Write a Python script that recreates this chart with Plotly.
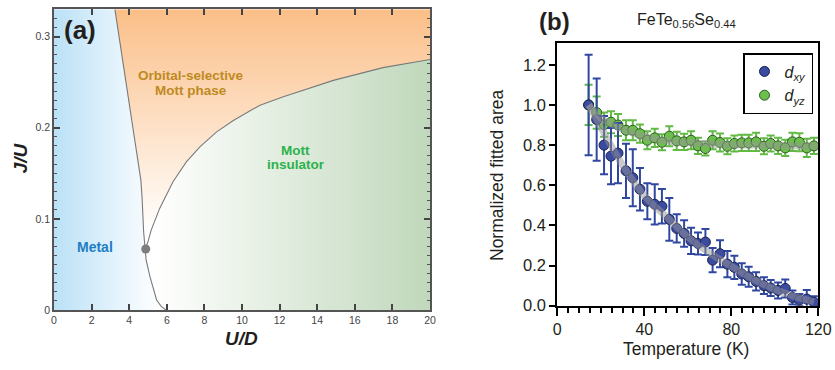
import plotly.graph_objects as go

# ---------------- Panel (a): phase diagram ----------------
# boundary metal / orbital-selective Mott phase (from top down to critical point)
mo_U = [3.24, 3.53, 3.83, 4.05, 4.22, 4.42, 4.62, 4.68, 4.72, 4.77, 4.85]
mo_J = [0.33, 0.29, 0.2485, 0.222, 0.200, 0.172, 0.1425, 0.125, 0.105, 0.085, 0.067]
# boundary metal / Mott insulator (critical point down to J=0)
mm_U = [4.85, 4.90, 5.10, 5.30, 5.46, 5.70, 5.95]
mm_J = [0.067, 0.055, 0.037, 0.022, 0.011, 0.004, 0.0]
# boundary orbital-selective / Mott insulator (critical point to right edge)
om_U = [4.85, 5.00, 5.17, 5.62, 6.33, 7.04, 7.76, 8.65, 9.54, 10.96, 12.2, 14.86, 17.5, 20.0]
om_J = [0.067, 0.075, 0.0877, 0.1115, 0.1407, 0.1626, 0.179, 0.1955, 0.208, 0.2248, 0.234, 0.252, 0.266, 0.275]
crit_U = [4.88]
crit_J = [0.067]

# ---------------- Panel (b): FeTe0.56Se0.44 ----------------
T = [14.4, 18.1, 21.5, 24.7, 27.9, 31.6, 34.7, 38.0, 41.4, 44.8, 48.1, 51.5, 54.9, 58.3, 61.5, 64.7,
     68.1, 71.4, 74.8, 78.2, 81.4, 84.8, 88.0, 91.4, 95.0, 98.1, 101.5, 104.8, 108.1, 111.3, 114.7, 118.0]
dxy = [1.0, 0.927, 0.80, 0.745, 0.76, 0.672, 0.637, 0.58, 0.52, 0.505, 0.495, 0.43, 0.385, 0.36, 0.323, 0.31,
       0.317, 0.227, 0.259, 0.207, 0.191, 0.158, 0.144, 0.121, 0.10, 0.088, 0.076, 0.086, 0.041, 0.028, 0.033, 0.017]
dxy_err = [0.25, 0.205, 0.145, 0.14, 0.15, 0.135, 0.142, 0.106, 0.09, 0.10, 0.086, 0.106, 0.07, 0.066, 0.065, 0.055,
           0.065, 0.06, 0.067, 0.065, 0.058, 0.054, 0.05, 0.045, 0.042, 0.04, 0.04, 0.045, 0.035, 0.03, 0.045, 0.03]
dyz = [1.0, 0.962, 0.902, 0.914, 0.90, 0.874, 0.874, 0.857, 0.824, 0.836, 0.814, 0.844, 0.821, 0.816, 0.824, 0.796,
       0.783, 0.824, 0.813, 0.794, 0.808, 0.811, 0.811, 0.816, 0.794, 0.808, 0.796, 0.786, 0.816, 0.814, 0.786, 0.796]
dyz_err = [0.10, 0.08, 0.06, 0.055, 0.055, 0.05, 0.05, 0.045, 0.045, 0.045, 0.04, 0.05, 0.045, 0.04, 0.045, 0.04,
           0.035, 0.045, 0.045, 0.04, 0.04, 0.04, 0.04, 0.045, 0.04, 0.04, 0.04, 0.04, 0.045, 0.045, 0.045, 0.04]
# guide-to-the-eye curves
gxy_T = [14.4, 20, 30, 40, 50, 60, 70, 80, 90, 100, 110, 118]
gxy = [1.0, 0.89, 0.70, 0.548, 0.445, 0.343, 0.262, 0.197, 0.132, 0.082, 0.043, 0.02]
gyz_T = [14.4, 20, 25, 30, 40, 50, 60, 70, 80, 90, 100, 110, 120]
gyz = [1.0, 0.935, 0.905, 0.88, 0.842, 0.822, 0.812, 0.806, 0.802, 0.80, 0.798, 0.796, 0.795]

FONT = "Liberation Sans, Arial, sans-serif"

fig = go.Figure()

# region polygons built from boundaries
metal_U = [0] + mo_U + mm_U[1:] + [0]
metal_J = [0.33] + mo_J + mm_J[1:] + [0]
osmp_U = [20] + om_U[::-1] + mo_U[::-1][1:]
osmp_J = [0.33] + om_J[::-1] + mo_J[::-1][1:]
mott_U = om_U + [20] + mm_U[::-1][:-1]
mott_J = om_J + [0] + mm_J[::-1][:-1]

fig.add_trace(go.Scatter(x=metal_U, y=metal_J, fill='toself', mode='none',
                         fillgradient=dict(type='horizontal', colorscale=[[0, '#bbe1f7'], [1, '#ffffff']],
                                           start=0, stop=5.6),
                         hoverinfo='skip', showlegend=False, xaxis='x', yaxis='y'))
fig.add_trace(go.Scatter(x=osmp_U, y=osmp_J, fill='toself', mode='none',
                         fillgradient=dict(type='vertical', colorscale=[[0, '#ffffff'], [1, '#fbbf88']],
                                           start=0.085, stop=0.33),
                         hoverinfo='skip', showlegend=False, xaxis='x', yaxis='y'))
fig.add_trace(go.Scatter(x=mott_U, y=mott_J, fill='toself', mode='none',
                         fillgradient=dict(type='horizontal', colorscale=[[0, '#ffffff'], [1, '#c0d8bb']],
                                           start=5.3, stop=20),
                         hoverinfo='skip', showlegend=False, xaxis='x', yaxis='y'))
for bu, bj in [(mo_U, mo_J), (mm_U, mm_J), (om_U, om_J)]:
    fig.add_trace(go.Scatter(x=bu, y=bj, mode='lines', line=dict(color='#7a7a7a', width=1.1),
                             hoverinfo='skip', showlegend=False, xaxis='x', yaxis='y'))
fig.add_trace(go.Scatter(x=crit_U, y=crit_J, mode='markers', marker=dict(color='#7d7d7d', size=9),
                         hoverinfo='skip', showlegend=False, xaxis='x', yaxis='y'))

# panel (b) data
fig.add_trace(go.Scatter(x=T, y=dyz, mode='markers', name='<i>d</i><sub><i>yz</i></sub>',
                         marker=dict(color='#6cbf4c', size=10, line=dict(color='#2c5a24', width=1)),
                         error_y=dict(type='data', array=dyz_err, color='#62ba44', thickness=2, width=4),
                         cliponaxis=False, legendrank=2, xaxis='x2', yaxis='y2'))
fig.add_trace(go.Scatter(x=T, y=dxy, mode='markers', name='<i>d</i><sub><i>xy</i></sub>',
                         marker=dict(color='#3b4ba0', size=10, line=dict(color='#1b2352', width=1)),
                         error_y=dict(type='data', array=dxy_err, color='#2f47a0', thickness=2, width=4),
                         cliponaxis=False, legendrank=1, xaxis='x2', yaxis='y2'))
fig.add_trace(go.Scatter(x=gyz_T, y=gyz, mode='lines', line=dict(color='rgba(150,150,150,0.5)', width=7,
                                                              shape='spline'),
                         hoverinfo='skip', showlegend=False, xaxis='x2', yaxis='y2'))
fig.add_trace(go.Scatter(x=gxy_T, y=gxy, mode='lines', line=dict(color='rgba(150,150,150,0.5)', width=7,
                                                              shape='spline'),
                         hoverinfo='skip', showlegend=False, xaxis='x2', yaxis='y2'))

W, H = 835, 370


def px(x):
    return x / W


def py(y):
    return (H - y) / H


def ann(text, x, y, size, color='#231f20', ref='paper', angle=0):
    return dict(text=text, x=x, y=y, xref='x' if ref == 'data' else 'paper',
                yref='y' if ref == 'data' else 'paper', showarrow=False,
                xanchor='center', yanchor='middle', textangle=angle,
                font=dict(size=size, color=color, family=FONT))


annotations = [
    ann('<b>(a)</b>', 1.38, 0.307, 26, ref='data'),
    ann('<b>Orbital-selective</b>', 7.27, 0.2573, 13.5, '#bf8a1f', ref='data'),
    ann('<b>Mott phase</b>', 7.27, 0.2412, 13.5, '#bf8a1f', ref='data'),
    ann('<b>Mott</b>', 12.87, 0.1747, 13.5, '#2bb24c', ref='data'),
    ann('<b>insulator</b>', 12.87, 0.1598, 13.5, '#2bb24c', ref='data'),
    ann('<b>Metal</b>', 2.18, 0.0687, 14, '#1f7ec3', ref='data'),
    ann('<b><i>U/D</i></b>', px(241.7), py(338.3), 19),
    ann('<b><i>J/U</i></b>', px(20), py(158.3), 19, angle=-90),
    ann('<b>(b)</b>', px(554), py(22), 24),
    ann('FeTe<sub>0.56</sub>Se<sub>0.44</sub>', px(686), py(21), 16),
    ann('Temperature (K)', px(686), py(349), 17.5),
    ann('Normalized fitted area', px(497), py(175), 17.5, angle=-90),
]

fig.update_layout(
    width=W, height=H, margin=dict(l=0, r=0, t=0, b=0, autoexpand=False),
    paper_bgcolor='white', plot_bgcolor='white',
    font=dict(family=FONT, color='#231f20'),
    showlegend=True,
    legend=dict(x=px(743), y=py(53), xanchor='left', yanchor='top', bgcolor='white',
                bordercolor='black', borderwidth=1.5, font=dict(size=16, family=FONT),
                itemwidth=30, tracegroupgap=0),
    annotations=annotations,
    xaxis=dict(domain=[px(54), px(430)], range=[0, 20], anchor='y', dtick=2, tick0=0, automargin=False,
               ticks='inside', ticklen=6, tickwidth=1.5, tickcolor='#444',
               showline=True, linecolor='#555', linewidth=1.5, mirror='ticks',
               showgrid=False, zeroline=False, tickfont=dict(size=10.5, color='#444', family=FONT)),
    yaxis=dict(domain=[py(310), py(9.3)], range=[0, 0.33], anchor='x', automargin=False,
               tickvals=[0, 0.1, 0.2, 0.3], ticktext=['0', '0.1', '0.2', '0.3'],
               ticks='inside', ticklen=6, tickwidth=1.5, tickcolor='#444',
               minor=dict(dtick=0.01, tick0=0, ticks='inside', ticklen=3, tickwidth=1, tickcolor='#555'),
               showline=True, linecolor='#555', linewidth=1.5, mirror='ticks',
               showgrid=False, zeroline=False, tickfont=dict(size=10.5, color='#444', family=FONT)),
    xaxis2=dict(domain=[px(557.3), px(818.3)], range=[0, 120], anchor='y2', automargin=False,
                tickvals=[0, 40, 80, 120], ticks='outside', ticklen=8, tickwidth=2, tickcolor='black',
                minor=dict(dtick=5, tick0=0, ticks='outside', ticklen=5, tickwidth=1.5, tickcolor='black'),
                showline=True, linecolor='black', linewidth=2, mirror=True,
                showgrid=False, zeroline=False, tickfont=dict(size=16, color='#231f20', family=FONT)),
    yaxis2=dict(domain=[py(305.7), py(42.7)], range=[0, 1.31], anchor='x2', automargin=False,
                tickvals=[0, 0.2, 0.4, 0.6, 0.8, 1.0, 1.2], tickformat='.1f',
                ticks='outside', ticklen=6, tickwidth=2, tickcolor='black',
                showline=True, linecolor='black', linewidth=2, mirror=True,
                showgrid=False, zeroline=False, tickfont=dict(size=16.5, color='#231f20', family=FONT)),
)

fig.write_html("out.html")
